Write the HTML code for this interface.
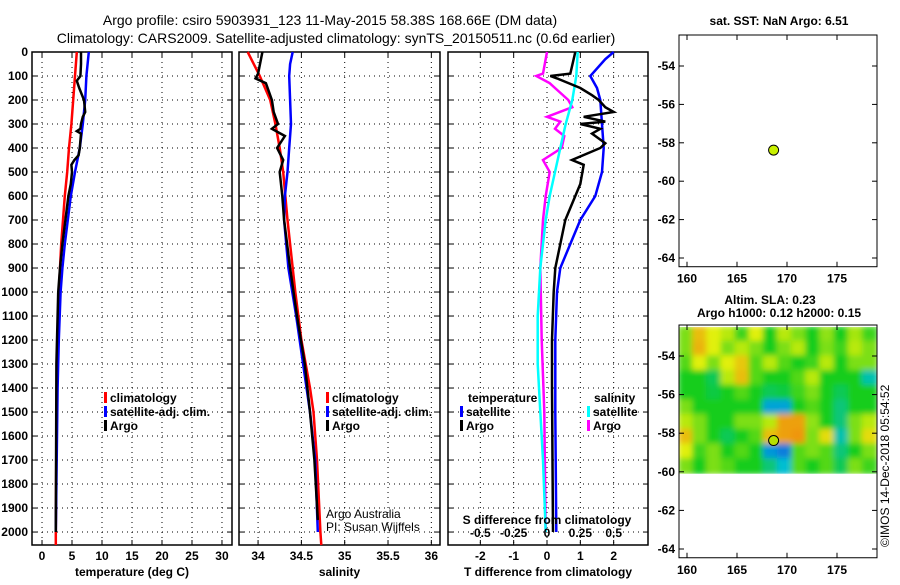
<!DOCTYPE html>
<html><head><meta charset="utf-8"><style>
body{margin:0;background:#fff;width:900px;height:580px;overflow:hidden}
svg text{font-family:"Liberation Sans",sans-serif;font-weight:bold;font-size:12px}
</style></head><body>
<svg id="s" width="900" height="580" xmlns="http://www.w3.org/2000/svg">
<text x="330" y="25" text-anchor="middle" style="font-size:14px;font-weight:normal">Argo profile: csiro 5903931_123 11-May-2015 58.38S 168.66E (DM data)</text>
<text x="336" y="43" text-anchor="middle" style="font-size:14px;font-weight:normal">Climatology: CARS2009. Satellite-adjusted climatology: synTS_20150511.nc (0.6d earlier)</text>
<text x="779" y="25" text-anchor="middle">sat. SST: NaN Argo: 6.51</text>
<text x="770" y="304" text-anchor="middle">Altim. SLA: 0.23</text>
<text x="779" y="317" text-anchor="middle">Argo h1000: 0.12 h2000: 0.15</text>
<text transform="translate(889,547) rotate(-90)" style="font-weight:normal">©IMOS 14-Dec-2018 05:54:52</text>
</svg>
<script>
const NS="http://www.w3.org/2000/svg";const S=document.getElementById('s');
function el(t,a,p){const e=document.createElementNS(NS,t);for(const k in a)e.setAttribute(k,a[k]);(p||S).appendChild(e);return e;}
// ---- data ----
const depthTicks=[0,100,200,300,400,500,600,700,800,900,1000,1100,1200,1300,1400,1500,1600,1700,1800,1900,2000];
const tempTicks=[0,5,10,15,20,25,30];
const salTicks=[34,34.5,35,35.5,36];
const tdiffTicks=[-2,-1,0,1,2];
const sdiffTicks=[-0.5,-0.25,0,0.25,0.5];
const tClimD=[0,100,200,300,400,500,600,700,800,900,1000,1200,1400,1600,1800,2000,2054];
const tClimV=[5.8,5.5,5.2,4.9,4.5,4.2,3.8,3.5,3.2,3.0,2.8,2.6,2.5,2.4,2.35,2.3,2.3];
const tSatD=[0,100,200,300,400,500,600,700,800,900,1000,1200,1400,2000];
const tSatV=[7.8,7.4,7.2,6.8,6.3,5.5,4.8,4.3,3.8,3.4,3.1,2.8,2.6,2.3];
const tArgoD=[0,50,100,120,150,200,250,270,300,320,330,340,400,430,450,470,500,550,600,700,800,900,1000,1100,1300,2000];
const tArgoV=[6.5,6.5,6.4,5.8,6.2,7,7.2,6.8,6.5,6.4,5.8,6.5,6.3,6.1,5.4,4.9,5,4.8,4.4,3.9,3.4,3.0,2.7,2.6,2.4,2.3];
const sClimD=[0,100,200,300,400,500,700,1000,1200,1400,1500,1700,2000,2054];
const sClimV=[33.88,34.02,34.14,34.2,34.25,34.29,34.34,34.43,34.5,34.6,34.64,34.68,34.72,34.73];
const sSatD=[0,50,100,200,300,400,500,600,700,900,1100,1300,1500,1700,2000];
const sSatV=[34.4,34.37,34.36,34.37,34.38,34.36,34.34,34.31,34.3,34.35,34.44,34.52,34.6,34.66,34.69];
const sArgoD=[0,90,110,130,200,250,300,320,350,400,450,500,600,700,900,1100,1300,1500,1700,1950];
const sArgoV=[34.05,34.0,33.97,34.09,34.16,34.18,34.23,34.16,34.31,34.22,34.29,34.25,34.28,34.3,34.37,34.45,34.54,34.6,34.65,34.69];
const dTSatD=[0,30,100,150,200,300,400,500,600,700,800,900,1000,1200,1500,2000];
const dTSatV=[2.0,1.75,1.3,1.5,1.6,1.65,1.7,1.65,1.45,1.0,0.7,0.4,0.3,0.25,0.25,0.28];
const dTArgoD=[0,90,100,110,150,180,200,230,250,270,290,300,320,340,380,400,450,470,550,600,700,800,900,1000,1200,1400,2000];
const dTArgoV=[0.85,0.7,0.1,0.3,1.0,1.35,1.55,1.75,2.0,1.1,1.75,1.0,1.6,1.35,1.75,1.6,0.75,1.1,1.0,0.85,0.55,0.4,0.25,0.2,0.15,0.15,0.18];
const dSSatD=[0,100,200,300,400,500,600,700,800,900,1100,1300,1500,1700,2000];
const dSSatV=[0.23,0.22,0.19,0.14,0.1,0.06,0.02,-0.01,-0.03,-0.05,-0.07,-0.07,-0.05,-0.03,-0.01];
const dSArgoD=[0,90,100,130,150,200,230,270,290,320,350,400,450,480,500,600,700,900,1200,1500,2000];
const dSArgoV=[0,-0.03,-0.08,0.02,0.06,0.16,0.19,0,0.1,0.06,0.13,0.11,-0.03,0,0.02,-0.01,-0.03,-0.05,-0.04,-0.02,-0.01];
const slaGrid=[
[0.5,1.5,1,0.8,0.2,1,0,0.8,0.5,0,0.6,0,0.7,0.2],
[0.5,1.6,1,0.5,0.8,0.5,0,0.5,0.8,0,0.5,0.2,0.8,0.5],
[0.3,1,0.5,1,1.4,0.3,0.8,0.3,0,0.2,0.8,0,0.5,0.5],
[0,0,-0.3,0.8,1.5,0.3,0,0,0.3,0.8,0,0,0,-0.8],
[0,0,-0.2,0,0.3,0,-0.3,-0.2,0.2,0.5,0,-0.3,0,0],
[0.5,0,0,0,0,0,-1.2,-1.2,0,0.3,0,-0.5,0,0],
[0.8,0.5,0,0,0.5,0.5,0.8,1.8,1.8,0.6,0,-0.5,0.5,0.8],
[1.5,0.5,0,-0.3,0,0.3,1.5,1.8,1.9,0.5,1.2,-0.8,0.5,1.2],
[1,0.2,0.5,0,0.3,0,-1.3,-1.5,0.3,0.5,0.3,-0.5,0,0.5],
[0.5,0,0.5,0.3,0,0,-0.5,-1,0.3,0,0.3,-0.3,0.5,0.2]];
const lonTicks=[160,165,170,175];
const latTicks=[-54,-56,-58,-60,-62,-64];
const argoLon=168.66, argoLat=-58.38;
// ---- scales ----
const Y0=52,Y1=545,DMAX=2054;
const yD=d=>Y0+d/DMAX*(Y1-Y0);
function lin(d0,d1,r0,r1){return v=>r0+(v-d0)/(d1-d0)*(r1-r0);}
const P=[{x0:32,x1:232,s:lin(-1.67,31.67,32,232),ticks:tempTicks,lab:'temperature (deg C)',n:'temperature'},
{x0:239,x1:440,s:lin(33.78,36.1,239,440),ticks:salTicks,lab:'salinity',n:'salinity'},
{x0:448,x1:648,s:lin(-2.97,3.03,448,648),ticks:tdiffTicks,lab:'T difference from climatology',n:'difference'}];
P.forEach((p,i)=>{
 const g=el('g',{});
 p.g=g;
 depthTicks.forEach(d=>{const y=yD(d);
  el('line',{x1:p.x0,x2:p.x1,y1:y,y2:y,stroke:'#000','stroke-dasharray':'1,4'},g);
  el('line',{x1:p.x0,x2:p.x0+5,y1:y,y2:y,stroke:'#000'},g);el('line',{x1:p.x1-5,x2:p.x1,y1:y,y2:y,stroke:'#000'},g);
  if(i==0){const t=el('text',{x:28,y:y+4,'text-anchor':'end'},g);t.textContent=d;}
 });
 p.ticks.forEach(v=>{const x=p.s(v);
  el('line',{x1:x,x2:x,y1:Y0,y2:Y1,stroke:'#000','stroke-dasharray':'1,4'},g);
  el('line',{x1:x,x2:x,y1:Y1-5,y2:Y1,stroke:'#000'},g);el('line',{x1:x,x2:x,y1:Y0,y2:Y0+5,stroke:'#000'},g);
  const t=el('text',{x:x,y:560,'text-anchor':'middle'},g);t.textContent=v;});
 el('rect',{x:p.x0,y:Y0,width:p.x1-p.x0,height:Y1-Y0,fill:'none',stroke:'#000','stroke-width':1.5},g);
 const t=el('text',{x:(p.x0+p.x1)/2,y:576,'text-anchor':'middle'},g);t.textContent=p.lab;
});
function line(p,sc,D,V,col,name){let d='';D.forEach((dd,i)=>{d+=(i?'L':'M')+sc(V[i]).toFixed(1)+','+yD(dd).toFixed(1);});
 const e=el('path',{d:d,fill:'none',stroke:col,'stroke-width':2.5},p.g);}
const sS=v=>P[2].s(v*4);
line(P[0],P[0].s,tClimD,tClimV,'#f00','temp-climatology-line');
line(P[0],P[0].s,tSatD,tSatV,'#00f','temp-satellite-line');
line(P[0],P[0].s,tArgoD,tArgoV,'#000','temp-argo-line');
line(P[1],P[1].s,sClimD,sClimV,'#f00','sal-climatology-line');
line(P[1],P[1].s,sSatD,sSatV,'#00f','sal-satellite-line');
line(P[1],P[1].s,sArgoD,sArgoV,'#000','sal-argo-line');
line(P[2],sS,dSArgoD,dSArgoV,'#f0f','sdiff-argo-line');
line(P[2],sS,dSSatD,dSSatV,'#0ff','sdiff-satellite-line');
line(P[2],P[2].s,dTSatD,dTSatV,'#00f','tdiff-satellite-line');
line(P[2],P[2].s,dTArgoD,dTArgoV,'#000','tdiff-argo-line');
// S diff labels
{const t=el('text',{x:547,y:524,'text-anchor':'middle','fill':'#000'});t.textContent='S difference from climatology';
 sdiffTicks.forEach(v=>{const t=el('text',{x:sS(v),y:537,'text-anchor':'middle'});t.textContent=v;});}
// legends
function leg(x,y,col,txt,name){el('rect',{x:x,y:y-10,width:3,height:11,fill:col});const t=el('text',{x:x+6,y:y});t.textContent=txt;}
leg(104,402,'#f00','climatology','legend-climatology');leg(104,416,'#00f','satellite-adj. clim.','legend-satellite');leg(104,430,'#000','Argo','legend-argo');
leg(326,402,'#f00','climatology','legend2-climatology');leg(326,416,'#00f','satellite-adj. clim.','legend2-satellite');leg(326,430,'#000','Argo','legend2-argo');
{let t=el('text',{x:468,y:402});t.textContent='temperature';t=el('text',{x:594,y:402});t.textContent='salinity';}
leg(460,416,'#00f','satellite','legend3-t-satellite');leg(460,430,'#000','Argo','legend3-t-argo');
leg(587,416,'#0ff','satellite','legend3-s-satellite');leg(587,430,'#f0f','Argo','legend3-s-argo');
{let t=el('text',{x:326,y:518,style:'font-weight:normal'});t.textContent='Argo Australia';t=el('text',{x:326,y:531,style:'font-weight:normal'});t.textContent='PI: Susan Wijffels';}
// maps
const lonS=lin(159.2,179,679,877);
function map(y0,y1,latTop,name,heat){
 const latS=lin(-54,-64,y0,y1);const g=el('g',{});
 if(heat){const top=latS(-52.5)+0,bot=latS(-60.1);const rows=slaGrid.length,cols=slaGrid[0].length;
  const def=el('defs',{},g);const f=el('filter',{id:'bl',x:'-5%',y:'-5%',width:'110%',height:'110%'},def);el('feGaussianBlur',{stdDeviation:3},f);
  const cp=el('clipPath',{id:'cp'},def);el('rect',{x:679,y:top,width:198,height:bot-top},cp);
  const hg=el('g',{'clip-path':'url(#cp)'},g);const bg=el('g',{filter:'url(#bl)'},hg);
  el('rect',{x:679,y:top,width:198,height:bot-top,fill:'#1ccc1c'},bg);
  const cw=198/cols,ch=(bot-top)/rows;
  function col(v){const st=[[-2,[20,60,230]],[-1,[0,190,210]],[0,[20,205,30]],[1,[225,240,10]],[2,[240,140,10]]];
   v=Math.max(-2,Math.min(2,v));for(let i=0;i<4;i++){if(v<=st[i+1][0]){const t=v-st[i][0];const a=st[i][1],b=st[i+1][1];return 'rgb('+a.map((c,k)=>Math.round(c+(b[k]-c)*t)).join(',')+')';}}}
  slaGrid.forEach((r,ri)=>r.forEach((v,ci)=>{const c=el('rect',{x:679+ci*cw-1,y:top+ri*ch-1,width:cw+2,height:ch+2,fill:col(v)},bg);}));}
 el('rect',{x:679,y:latTop,width:198,height:(y1+(y1-y0)/10*0.35)-latTop+2,fill:'none',stroke:'#000'},g);
 const by=y1+(y1-y0)/10*0.35+2;
 latTicks.forEach(v=>{const y=latS(v);el('line',{x1:679,x2:684,y1:y,y2:y,stroke:'#000'},g);el('line',{x1:872,x2:877,y1:y,y2:y,stroke:'#000'},g);const t=el('text',{x:675,y:y+4,'text-anchor':'end'},g);t.textContent=v;});
 lonTicks.forEach(v=>{const x=lonS(v);el('line',{x1:x,x2:x,y1:by-5,y2:by,stroke:'#000'},g);el('line',{x1:x,x2:x,y1:latTop,y2:latTop+5,stroke:'#000'},g);const t=el('text',{x:x,y:by+16,'text-anchor':'middle'},g);t.textContent=v;});
 const c=el('circle',{cx:lonS(argoLon),cy:latS(argoLat),r:5,fill:heat?'#b8e000':'#c8f000',stroke:'#000'},g);
}
map(66,258,35,'sst-map',false);
map(356,549,325,'sla-map',true);
</script>
</body></html>
